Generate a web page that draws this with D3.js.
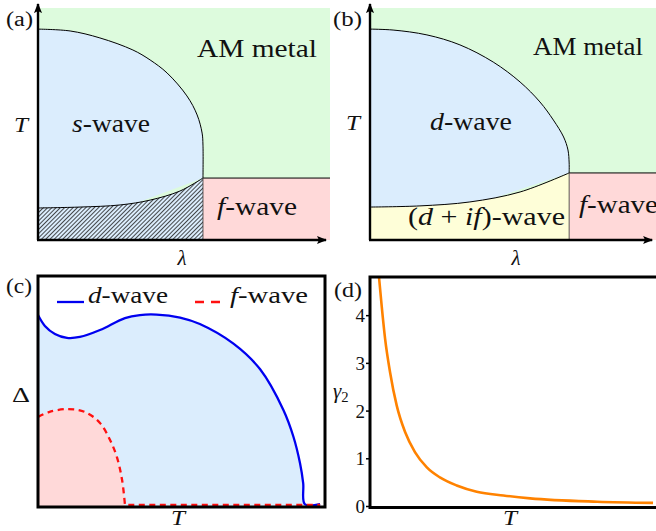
<!DOCTYPE html>
<html>
<head>
<meta charset="utf-8">
<script src="https://cdn.jsdelivr.net/npm/d3@7"></script>
<style>
  body { margin: 0; background: #fff; }
  svg { display: block; }
  text { font-family: "Liberation Serif", "Times New Roman", "DejaVu Serif", serif; fill: #111; }
</style>
</head>
<body>
<svg id="fig" width="656" height="531"></svg>
<script>
// ── data (λ, T, Δ in plot units 0..1) ─────────────────────────────────────
// (a) s-wave dome and the lower (hatched) boundary
const domeA = [[0, .909], [.110, .901], [.212, .871], [.325, .819], [.384, .776], [.442, .720],
               [.510, .621], [.545, .539], [.562, .461], [.565, .409], [.565, .267]];
const lowA  = [[0, .138], [.144, .142], [.281, .151], [.384, .172], [.486, .211], [.565, .267]];
const edgeA = [.565, .267];          // f-wave corner (λ, T)

// (b) d-wave dome and the (d+if) boundary
const domeB = [[0, .909], [.079, .905], [.195, .884], [.308, .841], [.422, .767], [.514, .681],
               [.582, .595], [.628, .517], [.663, .444], [.678, .388], [.682, .332], [.682, .289]];
const lowB  = [[0, .142], [.171, .147], [.342, .164], [.514, .207], [.682, .289]];
const edgeB = [.682, .289];

// (c) gaps vs T
const gapD = [[0, .831], [.024, .784], [.059, .749], [.101, .732], [.146, .736], [.216, .766],
              [.303, .818], [.355, .831], [.413, .833], [.495, .820], [.564, .792], [.681, .707],
              [.774, .596], [.855, .420], [.890, .304], [.913, .189], [.924, .103], [.930, .012],
              [.983, .012]];
const gapF = [[0, .390], [.038, .411], [.105, .424], [.164, .411], [.216, .364], [.251, .290],
              [.275, .216], [.293, .117], [.303, .009], [.983, .009]];

// (d) γ2 vs T
const gammaT = [.031, .040, .052, .069, .092, .121, .155, .196, .241, .299, .368, .460, .552, .783, .976];
const gammaV = [4.80, 4.21, 3.51, 2.81, 2.11, 1.55, 1.13, 0.81, 0.60, 0.43, 0.30, 0.22, 0.16, 0.09, 0.065];
const gammaTicks = [0, 1, 2, 3, 4];

const C = {
    metal: '#ddfbdd', dwave: '#dbedfd', fwave: '#ffd9d9', mixed: '#fefed8',
    blue: '#0000f0', red: '#ff1010', orange: '#ff8200',
};

const svg = d3.select('#fig');
const defs = svg.append('defs');

// arrow head + hatch pattern
defs.append('marker').attr('id', 'arr')
    .attr('viewBox', '0 0 10 10').attr('refX', 9).attr('refY', 5)
    .attr('markerWidth', 4.2).attr('markerHeight', 4.2).attr('markerUnits', 'strokeWidth')
    .attr('orient', 'auto')
    .append('path').attr('d', 'M0,1 L10,5 L0,9 L2,5 Z').attr('fill', '#000');

const hatch = defs.append('pattern').attr('id', 'hatch')
    .attr('patternUnits', 'userSpaceOnUse').attr('width', 3).attr('height', 8)
    .attr('patternTransform', 'rotate(45)');
hatch.append('rect').attr('width', 3).attr('height', 8).attr('fill', C.dwave);
hatch.append('line').attr('x1', 0.5).attr('x2', 0.5).attr('y1', 0).attr('y2', 8)
    .attr('stroke', '#2a2a2a').attr('stroke-width', 0.85);

// ── helpers ───────────────────────────────────────────────────────────────
function label(g, x, y, parts, size, opts = {}) {
    const t = g.append('text').attr('x', x).attr('y', y).attr('font-size', size)
        .attr('text-anchor', opts.anchor || 'start');
    if (opts.len) t.attr('textLength', opts.len).attr('lengthAdjust', 'spacingAndGlyphs');
    parts.forEach(p => {
        const s = t.append('tspan').text(p[0]);
        if (p[1] === 'i') s.attr('font-style', 'italic');
        if (p[1] === 'sub') s.attr('font-size', size * 0.7).attr('dy', 4);
    });
    return t;
}

function phase(g, xS, yS, dome, low, edge, lowFill, right) {
    const line = d3.line().x(d => xS(d[0])).y(d => yS(d[1])).curve(d3.curveCatmullRom);

    g.append('rect').attr('x', xS(0)).attr('y', yS(1))
        .attr('width', xS(right) - xS(0)).attr('height', yS(0) - yS(1)).attr('fill', C.metal);
    g.append('path').attr('d', line(dome) + `L${xS(0)},${yS(0)}Z`).attr('fill', C.dwave);
    g.append('path').attr('d', line(low) + `L${xS(edge[0])},${yS(0)}L${xS(0)},${yS(0)}Z`)
        .attr('fill', lowFill);
    g.append('rect').attr('x', xS(edge[0])).attr('y', yS(edge[1]))
        .attr('width', xS(right) - xS(edge[0])).attr('height', yS(0) - yS(edge[1]))
        .attr('fill', C.fwave);

    g.append('path').attr('d', line(dome)).attr('fill', 'none').attr('stroke', '#000').attr('stroke-width', 1);
    g.append('path').attr('d', line(low)).attr('fill', 'none').attr('stroke', '#000').attr('stroke-width', 1);
    g.append('line').attr('x1', xS(edge[0])).attr('x2', xS(right))
        .attr('y1', yS(edge[1])).attr('y2', yS(edge[1])).attr('stroke', '#000').attr('stroke-width', 1);
    g.append('line').attr('x1', xS(edge[0])).attr('x2', xS(edge[0]))
        .attr('y1', yS(edge[1])).attr('y2', yS(0)).attr('stroke', '#333').attr('stroke-width', 0.8);

    // axes with arrow heads
    g.append('line').attr('x1', xS(0)).attr('y1', yS(0)).attr('x2', xS(0)).attr('y2', yS(1) - 4)
        .attr('stroke', '#000').attr('stroke-width', 2.4).attr('marker-end', 'url(#arr)');
    g.append('line').attr('x1', xS(0) - 1).attr('y1', yS(0)).attr('x2', xS(right) - 4).attr('y2', yS(0))
        .attr('stroke', '#000').attr('stroke-width', 2.4).attr('marker-end', 'url(#arr)');
}

// ── (a) ───────────────────────────────────────────────────────────────────
const yT = d3.scaleLinear().domain([0, 1]).range([240, 8]);
const xA = d3.scaleLinear().domain([0, 1]).range([38, 330]);
const gA = svg.append('g');
phase(gA, xA, yT, domeA, lowA, edgeA, 'url(#hatch)', 1);
label(gA, 6, 26, [['(a)']], 20, { len: 27 });
label(gA, 197, 57, [['AM metal']], 25, { len: 120 });
label(gA, 72, 132, [['s', 'i'], ['-wave']], 25, { len: 78 });
label(gA, 217, 215, [['f', 'i'], ['-wave']], 25, { len: 80 });
label(gA, 14, 132, [['T', 'i']], 21, { len: 14 });
label(gA, 182, 265, [['λ', 'i']], 21, { anchor: 'middle' });

// ── (b) ───────────────────────────────────────────────────────────────────
const xB = d3.scaleLinear().domain([0, 1]).range([370, 662]);
const gB = svg.append('g');
phase(gB, xB, yT, domeB, lowB, edgeB, C.mixed, 0.98);
label(gB, 333, 26, [['(b)']], 20, { len: 29 });
label(gB, 533, 55, [['AM metal']], 25, { len: 110 });
label(gB, 430, 130, [['d', 'i'], ['-wave']], 25, { len: 82 });
label(gB, 408, 225, [['('], ['d', 'i'], [' + '], ['if', 'i'], [')-wave']], 25, { len: 157 });
label(gB, 579, 213, [['f', 'i'], ['-wave']], 25, { len: 79 });
label(gB, 346, 130, [['T', 'i']], 21, { len: 14 });
label(gB, 516, 265, [['λ', 'i']], 21, { anchor: 'middle' });

// ── (c) ───────────────────────────────────────────────────────────────────
const xC = d3.scaleLinear().domain([0, 1]).range([38, 325]);
const yC = d3.scaleLinear().domain([0, 1]).range([507, 276]);
const gC = svg.append('g');
const areaC = d3.area().x(d => xC(d[0])).y0(yC(0)).y1(d => yC(d[1])).curve(d3.curveCatmullRom);
const lineC = d3.line().x(d => xC(d[0])).y(d => yC(d[1])).curve(d3.curveCatmullRom);
gC.append('path').attr('d', areaC(gapD)).attr('fill', C.dwave);
gC.append('path').attr('d', areaC(gapF.slice(0, 9))).attr('fill', C.fwave);
gC.append('path').attr('d', lineC(gapD)).attr('fill', 'none')
    .attr('stroke', C.blue).attr('stroke-width', 2.3);
gC.append('path').attr('d', lineC(gapF.slice(0, 9)) + `L${xC(gapF[9][0])},${yC(gapF[9][1])}`)
    .attr('fill', 'none').attr('stroke', C.red).attr('stroke-width', 2.3)
    .attr('stroke-dasharray', '6,4.5');
gC.append('rect').attr('x', xC(0)).attr('y', yC(1))
    .attr('width', xC(1) - xC(0)).attr('height', yC(0) - yC(1))
    .attr('fill', 'none').attr('stroke', '#000').attr('stroke-width', 3);
// legend
gC.append('line').attr('x1', 57).attr('x2', 84).attr('y1', 302).attr('y2', 302)
    .attr('stroke', C.blue).attr('stroke-width', 2.3);
label(gC, 88, 303, [['d', 'i'], ['-wave']], 23, { len: 80 });
gC.append('line').attr('x1', 195).attr('x2', 221).attr('y1', 302).attr('y2', 302)
    .attr('stroke', C.red).attr('stroke-width', 2.3).attr('stroke-dasharray', '9,7');
label(gC, 230, 303, [['f', 'i'], ['-wave']], 23, { len: 78 });
label(gC, 6, 293, [['(c)']], 20, { len: 26 });
label(gC, 12, 402, [['Δ']], 22, { len: 18 });
label(gC, 178, 525, [['T', 'i']], 20, { anchor: 'middle', len: 14 });

// ── (d) ───────────────────────────────────────────────────────────────────
const xD = d3.scaleLinear().domain([0, 1]).range([370, 660]);
const yD = d3.scaleLinear().domain([0, 4.8]).range([506, 277]);
const gD = svg.append('g');
gD.append('path').datum(gammaT.map((t, i) => [t, gammaV[i]]))
    .attr('d', d3.line().x(d => xD(d[0])).y(d => yD(d[1])).curve(d3.curveMonotoneX))
    .attr('fill', 'none').attr('stroke', C.orange).attr('stroke-width', 2.6);
gD.append('rect').attr('x', xD(0)).attr('y', yD(4.8))
    .attr('width', xD(1) - xD(0) + 10).attr('height', yD(0) - yD(4.8) + 1.5)
    .attr('fill', 'none').attr('stroke', '#000').attr('stroke-width', 3);
const axD = gD.append('g').attr('transform', `translate(${xD(0) - 1},0)`)
    .call(d3.axisLeft(yD).tickValues(gammaTicks).tickSize(3).tickPadding(1).tickFormat(d3.format('d')));
axD.select('.domain').remove();
axD.selectAll('.tick line').attr('stroke', '#000').attr('stroke-width', 1.5);
axD.selectAll('.tick text').attr('font-size', 19).attr('fill', '#111').attr('dy', '0.34em');
label(gD, 334, 297, [['(d)']], 20, { len: 28 });
label(gD, 333, 398, [['γ', 'i'], ['2', 'sub']], 21);
label(gD, 510, 525, [['T', 'i']], 20, { anchor: 'middle', len: 14 });
</script>
</body>
</html>
